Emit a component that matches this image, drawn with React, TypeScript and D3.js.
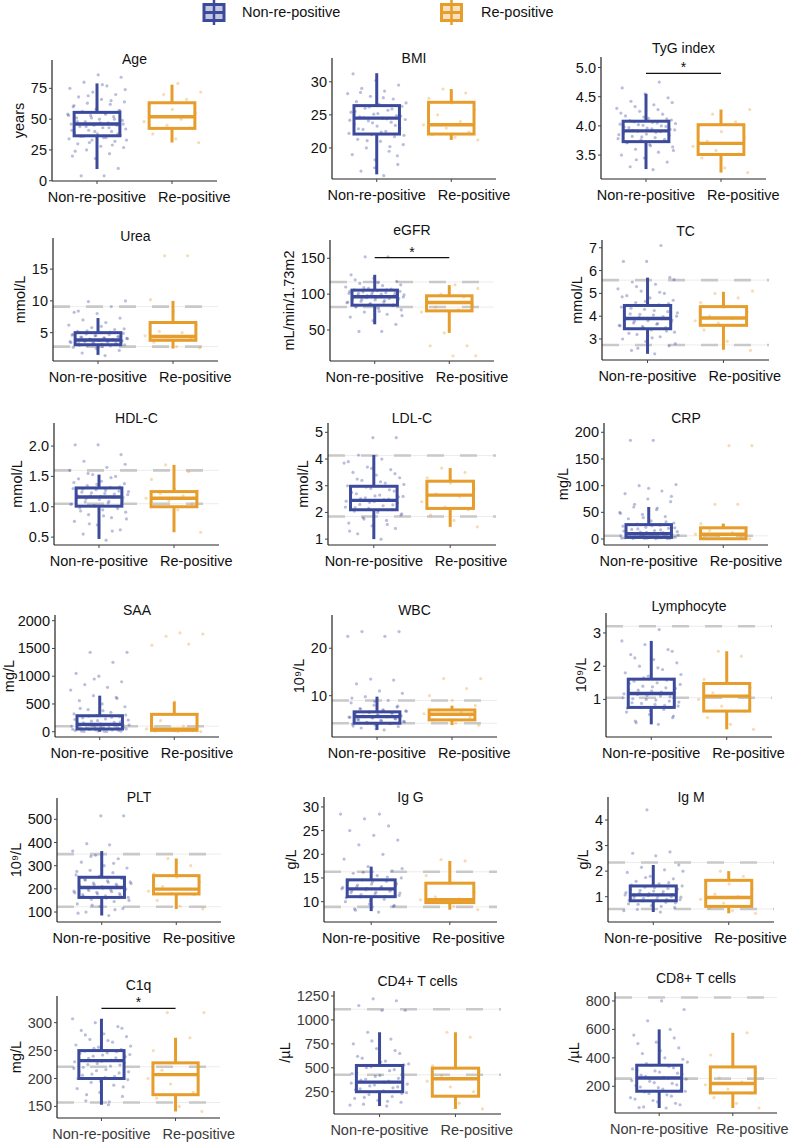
import React from "react";
import * as d3 from "d3";

const GROUPS = ["Non-re-positive", "Re-positive"];
const COLORS = ["#3C4A9C", "#E69D2C"];

const PANEL_TITLES = [
  "Age", "BMI", "TyG index",
  "Urea", "eGFR", "TC",
  "HDL-C", "LDL-C", "CRP",
  "SAA", "WBC", "Lymphocyte",
  "PLT", "Ig G", "Ig M",
  "C1q", "CD4+ T cells", "CD8+ T cells",
];

const Y_LABELS = [
  "years", "", "",
  "mmol/L", "mL/min/1.73m2", "mmol/L",
  "mmol/L", "mmol/L", "mg/L",
  "mg/L", "10⁹/L", "10⁹/L",
  "10⁹/L", "g/L", "g/L",
  "mg/L", "/µL", "/µL",
];

const Y_DOMAINS = [
  [-0.2, 98], [15.3, 33.6], [3.09, 5.18],
  [0.54, 19.9], [6.8, 175.5], [2.08, 7.34],
  [0.37, 2.38], [0.78, 5.35], [-11.2, 217.4],
  [-95, 2103], [1.3, 27], [-0.13, 3.6],
  [57, 592], [5.7, 32.1], [0.01, 4.9],
  [129.3, 347.7], [17, 1302], [12, 863],
];

const Y_TICKS = [
  [0, 25, 50, 75], [20, 25, 30], [3.5, 4.0, 4.5, 5.0],
  [5, 10, 15], [50, 100, 150], [3, 4, 5, 6, 7],
  [0.5, 1.0, 1.5, 2.0], [1, 2, 3, 4, 5], [0, 50, 100, 150, 200],
  [0, 500, 1000, 1500, 2000], [10, 20], [1, 2, 3],
  [100, 200, 300, 400, 500], [10, 15, 20, 25, 30], [1, 2, 3, 4],
  [150, 200, 250, 300], [250, 500, 750, 1000, 1250], [200, 400, 600, 800],
];

const REF_LINES = [
  [], [], [],
  [2.8, 9.1], [82, 117], [2.74, 5.58],
  [1.05, 1.6], [1.85, 4.13], [6],
  [100], [4.2, 9.0], [1.05, 3.2],
  [123, 350], [8.9, 16.3], [0.52, 2.34],
  [157, 221], [427, 1112], [254, 824],
];

// significance bar level (null = none)
const SIG_BARS = [
  null, null, 4.9,
  null, 151, null,
  null, null, null,
  null, null, null,
  null, null, null,
  325.5, null, null,
];

// [lower whisker, Q1, median, Q3, upper whisker]
const NON_BOX = [
  [9.5, 36.5, 46, 55.5, 79], [16, 22.1, 24.5, 26.4, 31.3], [3.26, 3.73, 3.915, 4.08, 4.55],
  [1.5, 3.1, 3.85, 5.0, 7.3], [58, 84.6, 96.3, 105.6, 127], [2.35, 3.45, 3.9, 4.47, 5.69],
  [0.47, 1.01, 1.16, 1.31, 1.53], [1.0, 2.1, 2.45, 2.98, 4.15], [0.5, 3, 10, 27, 60],
  [0, 49, 133, 288, 650], [2.8, 4.2, 5.6, 6.6, 9.8], [0.25, 0.76, 1.18, 1.61, 2.76],
  [85, 163, 206, 250, 363], [8, 11.05, 12.7, 14.6, 17.4], [0.4, 0.84, 1.07, 1.42, 2.24],
  [153, 200, 232, 250, 307], [100, 250, 350, 524, 871], [47, 165, 258, 348, 600],
];

const RE_BOX = [
  [31, 42.5, 52, 63.3, 78], [21.2, 22.1, 23.5, 26.9, 28.9], [3.2, 3.51, 3.7, 4.02, 4.28],
  [2.5, 3.8, 4.4, 6.6, 10.0], [46, 76.7, 88.4, 97.7, 112.6], [2.53, 3.6, 3.92, 4.42, 5.07],
  [0.58, 1.0, 1.14, 1.25, 1.69], [1.46, 2.15, 2.65, 3.17, 3.66], [0.3, 0.5, 9, 21, 29],
  [0, 25, 45, 313, 540], [3.8, 4.9, 6.1, 7.0, 7.9], [0.1, 0.65, 1.1, 1.48, 2.45],
  [113, 178, 199, 257, 331], [8.3, 9.8, 10.4, 13.9, 18.6], [0.35, 0.62, 0.97, 1.64, 2.0],
  [141, 171, 207, 228, 273], [70, 203, 385, 496, 871], [47, 153, 219, 336, 576],
];

const NON_POINTS = [
  [4, 4, 10, 18, 20, 22, 25, 27, 28, 30, 32, 33, 34, 35, 36, 37, 38, 39, 40, 41, 42, 43, 44, 45, 45, 46, 47, 48, 49, 50, 51, 52, 53, 54, 55, 56, 57, 58, 60, 62, 63, 64, 66, 68, 70, 72, 75, 77, 80, 84, 86,
    24, 29, 31, 33, 35, 36, 38, 40, 41, 43, 44, 46, 47, 48, 50, 51, 53, 54, 56, 57, 59, 61, 65, 69, 74, 78],
  [15.8, 16.5, 17.5, 18.2, 19, 19.5, 20, 20.5, 21, 21.3, 21.7, 22, 22.2, 22.5, 22.8, 23, 23.3, 23.6, 23.9, 24.1, 24.3, 24.5, 24.7, 24.9, 25.1, 25.4, 25.7, 26, 26.3, 26.6, 27, 27.4, 27.8, 28.2, 28.6, 29, 29.5, 30.2, 31.2,
    20.2, 21.1, 21.9, 22.4, 22.9, 23.4, 23.8, 24.2, 24.4, 24.6, 24.8, 25.2, 25.5, 25.9, 26.2, 26.8, 27.6, 28.4, 18.8, 17],
  [3.25, 3.3, 3.38, 3.45, 3.5, 3.55, 3.6, 3.64, 3.68, 3.71, 3.74, 3.76, 3.78, 3.8, 3.82, 3.84, 3.86, 3.88, 3.9, 3.91, 3.93, 3.95, 3.97, 3.99, 4.01, 4.03, 4.05, 4.07, 4.1, 4.13, 4.17, 4.2, 4.25, 4.3, 4.36, 4.42, 4.48, 4.55, 4.65, 4.75,
    3.42, 3.58, 3.66, 3.72, 3.77, 3.81, 3.85, 3.89, 3.92, 3.94, 3.96, 3.98, 4.0, 4.02, 4.04, 4.06, 4.09, 4.12, 4.15, 4.22, 4.28, 4.33, 4.4],
  [1.4, 1.8, 2.2, 2.5, 2.7, 2.9, 3.0, 3.1, 3.2, 3.3, 3.4, 3.5, 3.6, 3.65, 3.7, 3.75, 3.8, 3.85, 3.9, 4.0, 4.1, 4.2, 4.3, 4.4, 4.5, 4.6, 4.7, 4.8, 4.9, 5.0, 5.2, 5.5, 5.8, 6.2, 6.6, 7.0, 7.3, 8.0, 8.2, 9.1, 9.9, 10.0,
    2.8, 3.0, 3.15, 3.3, 3.45, 3.55, 3.62, 3.7, 3.78, 3.82, 3.88, 3.95, 4.05, 4.15, 4.25, 4.35, 4.55, 4.75, 5.1, 5.3, 5.6, 6.0, 8.4],
  [48, 48, 58, 63, 68, 72, 75, 78, 80, 82, 84, 86, 88, 89, 90, 91, 92, 93, 94, 95, 96, 97, 98, 99, 100, 101, 102, 103, 104, 105, 106, 107, 108, 110, 112, 115, 118, 122, 127, 152, 152,
    70, 76, 83, 85, 87, 89, 91, 93, 94, 95, 96, 97, 98, 99, 100, 101, 102, 103, 104, 106, 109, 113, 116, 120],
  [2.35, 2.5, 2.7, 2.9, 3.0, 3.1, 3.2, 3.3, 3.4, 3.45, 3.5, 3.55, 3.6, 3.65, 3.7, 3.75, 3.8, 3.85, 3.9, 3.95, 4.0, 4.05, 4.1, 4.2, 4.3, 4.4, 4.5, 4.6, 4.7, 4.8, 4.9, 5.0, 5.1, 5.2, 5.4, 5.5, 5.7, 6.4, 6.4, 7.1,
    2.6, 2.8, 3.05, 3.25, 3.35, 3.5, 3.58, 3.68, 3.78, 3.83, 3.88, 3.92, 3.98, 4.08, 4.15, 4.25, 4.35, 4.55, 4.65, 4.85, 5.05, 5.3, 5.6],
  [0.45, 0.55, 0.62, 0.7, 0.76, 0.82, 0.87, 0.91, 0.95, 0.98, 1.0, 1.02, 1.04, 1.06, 1.08, 1.1, 1.12, 1.14, 1.16, 1.18, 1.2, 1.22, 1.24, 1.26, 1.28, 1.3, 1.32, 1.35, 1.38, 1.42, 1.46, 1.5, 1.53, 1.6, 1.65, 1.75, 1.86, 2.02, 2.02,
    0.6, 0.72, 0.8, 0.85, 0.93, 0.97, 1.01, 1.05, 1.09, 1.13, 1.15, 1.17, 1.19, 1.21, 1.23, 1.25, 1.27, 1.29, 1.33, 1.37, 1.4, 1.48, 1.55, 1.7],
  [1.0, 1.2, 1.4, 1.5, 1.6, 1.7, 1.8, 1.9, 2.0, 2.05, 2.1, 2.15, 2.2, 2.25, 2.3, 2.35, 2.4, 2.45, 2.5, 2.55, 2.6, 2.65, 2.7, 2.8, 2.9, 3.0, 3.1, 3.2, 3.3, 3.4, 3.5, 3.6, 3.7, 3.85, 4.0, 4.15, 4.8, 4.8,
    1.3, 1.55, 1.75, 1.95, 2.08, 2.18, 2.28, 2.38, 2.42, 2.48, 2.52, 2.58, 2.62, 2.75, 2.85, 2.95, 3.05, 3.15, 3.25, 3.45, 3.65, 3.9],
  [0.5, 0.8, 1, 1.5, 2, 2.5, 3, 3.5, 4, 5, 5, 6, 6, 7, 8, 9, 10, 11, 12, 13, 14, 16, 18, 20, 22, 24, 26, 28, 30, 34, 38, 42, 46, 50, 55, 60, 70, 75, 85, 90, 100, 102, 185, 185,
    0.6, 1.2, 1.8, 2.2, 2.8, 3.2, 3.8, 4.5, 5.5, 6.5, 7.5, 8.5, 9.5, 10.5, 12.5, 15, 17, 19, 21, 25, 27, 32, 40, 48, 58, 65, 80, 95],
  [2, 5, 10, 15, 20, 30, 40, 50, 60, 70, 80, 90, 100, 110, 120, 130, 140, 150, 170, 190, 210, 230, 250, 270, 290, 320, 350, 400, 450, 500, 560, 620, 650, 750, 800, 850, 900, 1000, 1050, 1250, 1430, 1430,
    8, 12, 25, 35, 45, 55, 65, 75, 85, 95, 105, 115, 125, 135, 160, 180, 200, 220, 260, 280, 300, 380, 420, 600, 950],
  [2.8, 3.2, 3.5, 3.8, 4.0, 4.2, 4.4, 4.6, 4.8, 5.0, 5.2, 5.4, 5.5, 5.6, 5.7, 5.8, 6.0, 6.2, 6.4, 6.6, 6.8, 7.0, 7.3, 7.6, 8.0, 8.5, 9.0, 9.8, 10.5, 11, 12.5, 13.3, 13.5, 22.5, 22.5, 23.5, 23.5,
    3.0, 3.6, 4.1, 4.3, 4.5, 4.7, 4.9, 5.1, 5.3, 5.45, 5.55, 5.65, 5.75, 5.9, 6.1, 6.3, 6.5, 6.7, 6.9, 7.2, 7.8, 8.8, 9.5],
  [0.25, 0.35, 0.45, 0.55, 0.62, 0.7, 0.76, 0.8, 0.85, 0.9, 0.95, 1.0, 1.05, 1.1, 1.15, 1.2, 1.25, 1.3, 1.35, 1.4, 1.45, 1.5, 1.55, 1.6, 1.7, 1.8, 1.9, 2.0, 2.1, 2.2, 2.35, 2.5, 2.65, 2.76, 3.1,
    0.3, 0.5, 0.66, 0.74, 0.82, 0.88, 0.92, 0.98, 1.02, 1.08, 1.12, 1.17, 1.22, 1.28, 1.33, 1.38, 1.48, 1.58, 1.65, 1.75, 1.95, 2.25, 2.45],
  [85, 100, 115, 125, 135, 145, 155, 163, 170, 175, 180, 185, 190, 195, 200, 205, 210, 215, 220, 225, 230, 235, 240, 245, 250, 260, 270, 280, 290, 300, 315, 330, 345, 363, 390, 395, 515, 515,
    95, 110, 130, 150, 160, 168, 172, 178, 183, 188, 193, 198, 203, 208, 213, 218, 223, 228, 238, 248, 255, 275, 310, 340],
  [7.8, 8.5, 9, 9.5, 10, 10.5, 11, 11.3, 11.6, 11.9, 12.2, 12.5, 12.7, 12.9, 13.1, 13.4, 13.7, 14, 14.3, 14.6, 15, 15.5, 16, 16.5, 17.4, 19, 20, 22, 23, 24, 25, 26, 27.5, 28.5, 28.5,
    8.2, 9.2, 10.2, 10.8, 11.1, 11.5, 11.8, 12.0, 12.3, 12.6, 12.8, 13.0, 13.2, 13.5, 13.8, 14.2, 14.5, 15.2, 16.2, 17],
  [0.4, 0.5, 0.58, 0.65, 0.72, 0.78, 0.84, 0.88, 0.92, 0.96, 1.0, 1.04, 1.07, 1.1, 1.14, 1.18, 1.22, 1.27, 1.32, 1.37, 1.42, 1.5, 1.6, 1.7, 1.8, 1.95, 2.05, 2.15, 2.24, 2.6, 2.7, 2.75, 4.4,
    0.45, 0.62, 0.7, 0.76, 0.82, 0.86, 0.9, 0.94, 0.98, 1.02, 1.05, 1.09, 1.12, 1.16, 1.2, 1.25, 1.3, 1.35, 1.45, 1.55, 1.75, 2.0],
  [153, 160, 168, 175, 182, 188, 193, 198, 202, 206, 210, 214, 218, 222, 225, 228, 231, 234, 237, 240, 243, 246, 249, 252, 256, 260, 265, 270, 275, 280, 286, 293, 300, 307,
    158, 171, 185, 195, 200, 204, 208, 212, 216, 220, 224, 227, 230, 233, 236, 239, 242, 245, 248, 254, 258, 268, 278, 290],
  [100, 120, 140, 160, 180, 200, 220, 240, 260, 280, 300, 320, 340, 360, 380, 400, 420, 450, 480, 510, 540, 570, 600, 650, 700, 750, 800, 871, 1100, 1100, 1150, 1200, 1220,
    110, 150, 190, 230, 250, 270, 290, 310, 330, 350, 370, 390, 410, 440, 470, 500, 530, 560, 620, 680, 780],
  [47, 55, 70, 90, 110, 130, 150, 165, 180, 195, 210, 225, 240, 255, 270, 285, 300, 315, 330, 348, 370, 400, 430, 470, 510, 560, 600, 660, 740, 800,
    50, 80, 100, 120, 140, 160, 175, 190, 205, 220, 235, 250, 262, 278, 292, 308, 322, 340, 360, 390, 450, 500, 540],
];

const RE_POINTS = [
  [31, 34, 38, 43, 45, 48, 50, 52, 55, 58, 62, 66, 70, 72, 79],
  [21.2, 21.6, 22, 22.4, 23, 23.5, 24, 25, 25.8, 26.8, 27.5, 28.3, 28.9],
  [3.2, 3.28, 3.45, 3.52, 3.58, 3.65, 3.7, 3.74, 3.8, 3.9, 4.0, 4.07, 4.2, 4.28],
  [2.6, 2.8, 3.5, 4.0, 4.3, 4.5, 5.0, 5.2, 6.2, 8.3, 10.2, 17.1, 17.1],
  [14, 14, 28, 28, 46, 75, 78, 82, 86, 88, 92, 96, 100, 108, 113],
  [2.5, 2.9, 3.4, 3.6, 3.7, 3.8, 3.9, 4.0, 4.2, 4.4, 4.6, 4.8, 5.0, 5.1],
  [0.58, 0.95, 1.0, 1.05, 1.1, 1.14, 1.18, 1.22, 1.26, 1.3, 1.45, 1.58, 1.69],
  [1.46, 1.7, 1.9, 2.1, 2.2, 2.4, 2.6, 2.7, 2.9, 3.1, 3.3, 3.5, 3.66],
  [0.3, 1, 2, 4, 6, 9, 12, 16, 21, 25, 29, 65, 65, 175, 175],
  [1, 5, 15, 25, 40, 50, 100, 200, 313, 540, 1560, 1580, 1720, 1760, 1780],
  [3.8, 4.2, 4.9, 5.5, 6.0, 6.2, 6.6, 7.0, 7.9, 9.0, 10.0, 11.5, 13.6, 13.6],
  [0.1, 0.25, 0.45, 0.65, 0.8, 1.0, 1.1, 1.2, 1.35, 1.48, 1.6, 2.3, 2.45],
  [113, 125, 150, 175, 180, 190, 199, 210, 230, 250, 265, 300, 331],
  [8.3, 9, 9.8, 10, 10.2, 10.4, 10.6, 11, 12, 13.9, 15.5, 18.6, 18.9],
  [0.35, 0.45, 0.55, 0.62, 0.75, 0.9, 1.0, 1.1, 1.3, 1.5, 1.64, 1.8, 2.0],
  [141, 150, 165, 175, 190, 200, 207, 215, 222, 228, 250, 273, 318, 318],
  [70, 130, 203, 250, 300, 360, 385, 420, 470, 496, 520, 820, 871],
  [47, 80, 120, 153, 180, 210, 230, 260, 300, 336, 420, 576],
];

// layout: [axis left, axis right, panel top, axis bottom, title centre y]
const LAYOUT = [
  [52, 217, 60, 181, 59], [332, 496, 58, 179, 58], [601, 766, 57, 179, 48],
  [53, 218, 238, 361, 236], [330, 494, 240, 361, 230], [602, 769, 240, 360, 231],
  [54, 219, 423, 545, 418], [328, 496, 423, 545, 418], [604, 768, 423, 545, 418],
  [55, 219, 615, 737, 610], [332, 497, 615, 737, 610], [606, 772, 613, 737, 606],
  [57, 221, 798, 922, 797], [324, 497, 797, 922, 797], [608, 774, 797, 922, 797],
  [57, 220, 996, 1118, 985], [334, 501, 991, 1114, 981], [615, 777, 992, 1113, 978],
];

const FONT = "'Liberation Sans', Arial, Helvetica, sans-serif";
const FS = 14.5;

const jit = (k: number) => (((k + 1) * 0.6180339887) % 1) - 0.5;

function fmtTick(v: number, ticks: number[]) {
  return ticks.some((t) => !Number.isInteger(t)) ? v.toFixed(1) : String(v);
}

function Panel({ i }: { i: number }) {
  const [L, R, T, B, titleY] = LAYOUT[i];
  const x = d3.scalePoint<string>().domain(GROUPS).range([L, R]).padding(0.6);
  const step = x.step();
  const y = d3.scaleLinear().domain(Y_DOMAINS[i]).range([B, T]);
  const ticks = Y_TICKS[i];
  const bw = step * 0.61;
  const textCol = i >= 15 ? "#3a3a3a" : "#111";
  const labels = ticks.map((t) => fmtTick(t, ticks));
  const maxW = d3.max(labels, (s) => s.replace(".", "").length * 8.1 + (s.includes(".") ? 4 : 0)) || 0;
  const ylabX = Math.max(9, L - 5 - maxW - 12);
  const boxes = [NON_BOX[i], RE_BOX[i]];
  const pts = [NON_POINTS[i], RE_POINTS[i]];
  const sig = SIG_BARS[i];
  const xNon = x(GROUPS[0])!;
  const xRe = x(GROUPS[1])!;
  const reLabelX = Math.min(xNon + 61, 716);

  return (
    <g>
      <text x={(L + R) / 2} y={titleY + 5} textAnchor="middle" fontSize={14} fill="#111">
        {PANEL_TITLES[i]}
      </text>
      {REF_LINES[i].map((v, k) => (
        <g key={"r" + k}>
          <line x1={L} x2={R} y1={y(v)} y2={y(v)} stroke="#ececec" strokeWidth={1} />
          <line x1={L} x2={R} y1={y(v)} y2={y(v)} stroke="#c9c9c9" strokeWidth={2.6} strokeDasharray="17,16" />
        </g>
      ))}
      {pts.map((arr, g) =>
        arr.map((v, k) => (
          <circle
            key={g + "-" + k}
            cx={x(GROUPS[g])! + jit(k + g * 7) * 2 * 0.4 * step}
            cy={y(v)}
            r={1.6}
            fill={COLORS[g]}
            fillOpacity={0.36}
          />
        ))
      )}
      {boxes.map((b, g) => {
        const cx = x(GROUPS[g])!;
        return (
          <g key={"b" + g} stroke={COLORS[g]} strokeWidth={3} fill="none">
            <line x1={cx} x2={cx} y1={y(b[0])} y2={y(b[1])} />
            <line x1={cx} x2={cx} y1={y(b[3])} y2={y(b[4])} />
            <rect x={cx - bw / 2} y={y(b[3])} width={bw} height={y(b[1]) - y(b[3])} />
            <line x1={cx - bw / 2} x2={cx + bw / 2} y1={y(b[2])} y2={y(b[2])} strokeWidth={3.4} />
          </g>
        );
      })}
      {sig !== null && (
        <g>
          <line x1={xNon} x2={xRe} y1={y(sig)} y2={y(sig)} stroke="#111" strokeWidth={1.3} />
          <text x={(xNon + xRe) / 2} y={y(sig) - 1} textAnchor="middle" fontSize={14} fill="#111">*</text>
        </g>
      )}
      <line x1={L} x2={L} y1={T} y2={B} stroke="#222" strokeWidth={1.2} />
      <line x1={L} x2={R} y1={B} y2={B} stroke="#222" strokeWidth={1.2} />
      {ticks.map((t, k) => (
        <g key={"t" + k}>
          <line x1={L - 3} x2={L} y1={y(t)} y2={y(t)} stroke="#444" strokeWidth={1} />
          <text x={L - 5} y={y(t) + 5} textAnchor="end" fontSize={FS} fill={textCol}>
            {labels[k]}
          </text>
        </g>
      ))}
      {GROUPS.map((gname) => (
        <line key={"xt" + gname} x1={x(gname)} x2={x(gname)} y1={B} y2={B + 3} stroke="#444" strokeWidth={1} />
      ))}
      <text x={xNon} y={B + 21} textAnchor="middle" fontSize={FS} fill={textCol}>
        {GROUPS[0]}
      </text>
      <text x={reLabelX} y={B + 21} textAnchor="start" fontSize={FS} fill={textCol}>
        {GROUPS[1]}
      </text>
      {Y_LABELS[i] && (
        <text
          transform={`translate(${ylabX},${(T + B) / 2}) rotate(-90)`}
          textAnchor="middle"
          dy="0.35em"
          fontSize={FS}
          fill="#111"
        >
          {Y_LABELS[i]}
        </text>
      )}
    </g>
  );
}

function Legend() {
  const items = [
    { cx: 214, tx: 242 },
    { cx: 451.5, tx: 481 },
  ];
  return (
    <g>
      {items.map((it, g) => (
        <g key={g}>
          <line x1={it.cx} x2={it.cx} y1={0} y2={25} stroke={COLORS[g]} strokeWidth={2.5} />
          <rect x={it.cx - 10} y={4.5} width={20} height={16} fill={COLORS[g]} fillOpacity={0.3} stroke={COLORS[g]} strokeWidth={3} />
          <line x1={it.cx - 10} x2={it.cx + 10} y1={12.5} y2={12.5} stroke={COLORS[g]} strokeWidth={3} />
          <text x={it.tx} y={17} fontSize={FS} fill="#111">
            {GROUPS[g]}
          </text>
        </g>
      ))}
    </g>
  );
}

export default function App() {
  return (
    <svg
      width={790}
      height={1144}
      style={{ position: "absolute", left: 0, top: 0, background: "#fff" }}
      fontFamily={FONT}
    >
      <rect x={0} y={0} width={790} height={1144} fill="#fff" />
      <Legend />
      {PANEL_TITLES.map((_, i) => (
        <Panel key={i} i={i} />
      ))}
    </svg>
  );
}
